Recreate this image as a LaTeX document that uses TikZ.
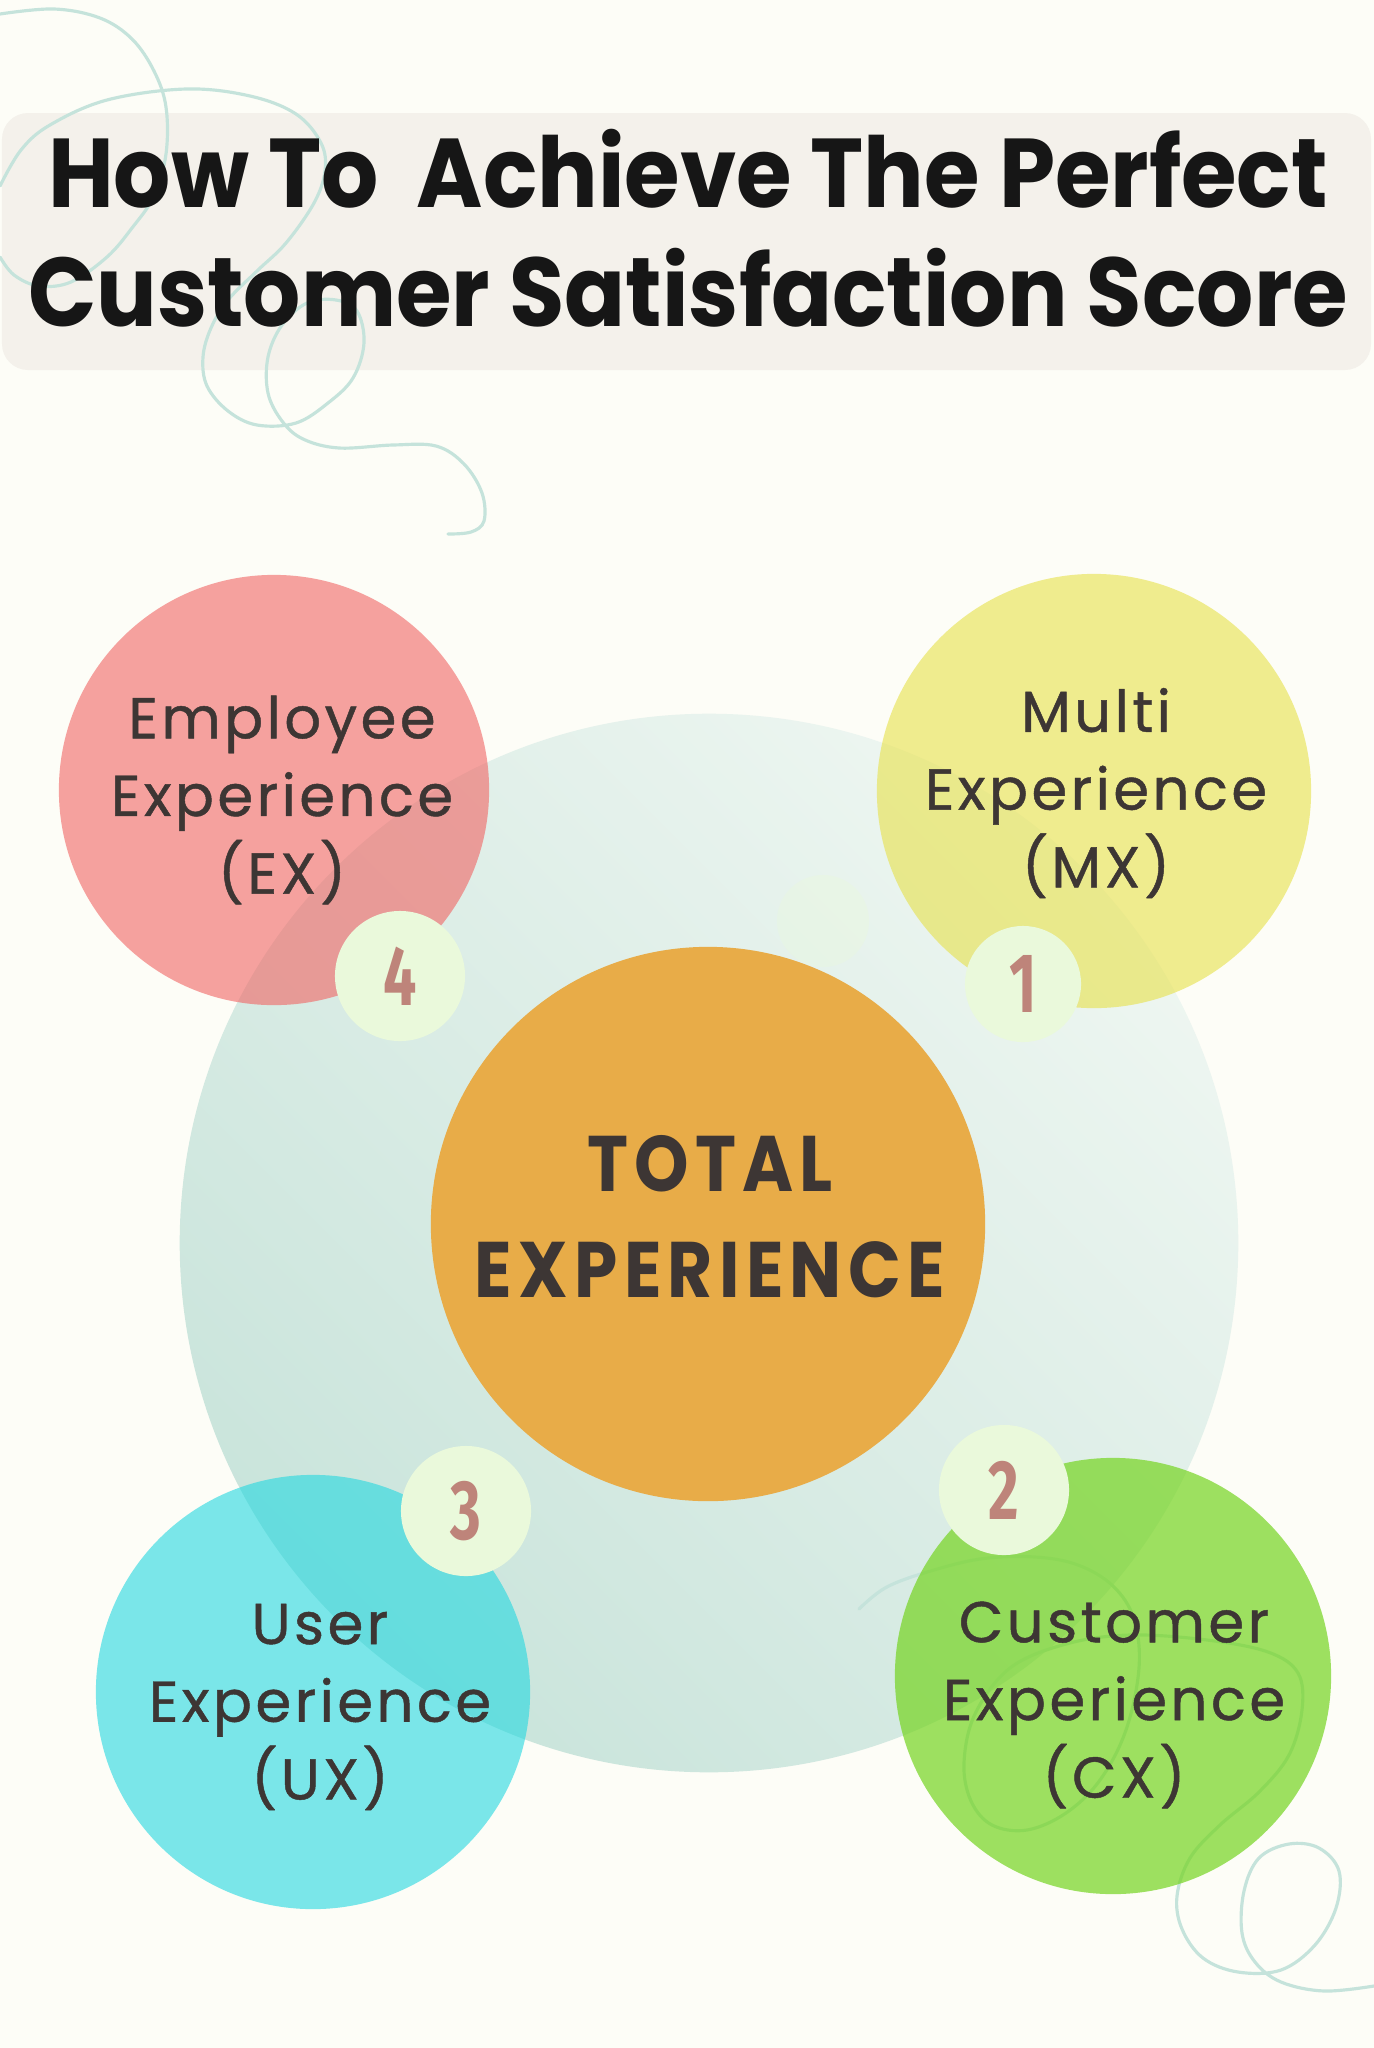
\documentclass[tikz,border=0pt]{standalone}
\usepackage{fontspec}
\setmainfont{Poppins}
\newfontfamily\titlefont[FakeStretch=0.92]{Poppins}
\newfontfamily\labelfont[LetterSpace=6,FakeBold=0.8]{Poppins}
\newfontfamily\totalfont[LetterSpace=8,FakeStretch=0.88]{Poppins}
\newfontfamily\numfont[FakeStretch=0.7]{Fira Sans}

\definecolor{bgcream}{HTML}{FDFDF7}
\definecolor{titlebox}{HTML}{F4F1EB}
\definecolor{titleink}{HTML}{161616}
\definecolor{ink}{HTML}{3D3634}
\definecolor{swirlteal}{HTML}{C5E3DB}
\definecolor{paletop}{HTML}{EEF6F1}
\definecolor{palebot}{HTML}{C9E4DB}
\definecolor{orangec}{HTML}{E8AC48}
\definecolor{pinkc}{RGB}{241,100,99}
\definecolor{yellowc}{RGB}{231,225,73}
\definecolor{cyanc}{RGB}{35,216,224}
\definecolor{greenc}{RGB}{117,212,32}
\definecolor{badgegreen}{HTML}{EAF9DB}
\definecolor{numrose}{HTML}{BE847A}

\tikzstyle{bubble}=[circle,inner sep=0pt,draw=none]
\tikzstyle{badge}=[circle,inner sep=0pt,fill=badgegreen,text=numrose,font=\numfont\bfseries\fontsize{24}{24}\selectfont]
\tikzstyle{blurb}=[align=center,text=ink,font=\labelfont\fontsize{16.4}{22.1}\selectfont]
\tikzstyle{swirl}=[draw=swirlteal,line width=0.9pt,line cap=round]

\begin{document}
\begin{tikzpicture}[x=0.01cm,y=-0.01cm]
    \useasboundingbox (0,0) rectangle (1374,2048);
    \fill[bgcream] (0,0) rectangle (1374,2048);
    \fill[titlebox,rounded corners=0.26cm] (2,113) rectangle (1371,370);

    % big pale ring behind everything
    \node[bubble,minimum size=10.58cm,top color=paletop,bottom color=palebot,shading angle=-45] (halo) at (709,1243) {};
    \node[bubble,minimum size=0.92cm,fill=badgegreen,opacity=0.35] (ghost) at (823,921) {};

    % swirls
    \draw[swirl] plot[smooth,tension=0.6] coordinates {(0,14) (54,9) (100,18) (132,39) (154,71) (166,107) (166,154) (154,196) (132,228) (107,257) (71,282) (39,286) (14,275) (0,257)};
    \draw[swirl] plot[smooth,tension=0.6] coordinates {(0,186) (21,150) (50,125) (107,100) (186,89) (250,96) (296,114) (321,143) (325,171) (314,203) (286,243) (257,271) (228,300) (211,328) (203,357) (207,386) (228,411) (257,425) (296,423) (328,403) (353,378) (364,343) (357,311) (336,300) (307,303) (282,325) (268,357) (268,393) (282,421) (303,439) (339,448) (393,445) (436,446) (464,464) (482,493) (484,521) (471,532) (448,534)};
    \draw[swirl] plot[smooth,tension=0.6] coordinates {(859,1609) (885,1588) (924,1573) (980,1559) (1035,1557) (1078,1565) (1113,1586) (1134,1619) (1139,1668) (1126,1730) (1100,1780) (1066,1813) (1027,1830) (992,1825) (971,1801) (964,1763) (975,1714) (1010,1668) (1066,1644) (1130,1635) (1207,1640) (1268,1652) (1298,1673) (1302,1710) (1289,1755) (1259,1792) (1220,1825) (1190,1858) (1177,1896) (1182,1929) (1203,1958) (1238,1972) (1281,1970) (1315,1945) (1336,1908) (1339,1871) (1319,1848) (1289,1844) (1259,1858) (1244,1891) (1242,1933) (1255,1962) (1281,1982) (1324,1991) (1374,1986)};

    \node[font=\titlefont\bfseries\fontsize{27.8}{33.9}\selectfont,align=center,text=titleink] (title) at (688,228) {How To\ \ Achieve The Perfect\\Customer Satisfaction Score};

    % the four experiences
    \node[bubble,minimum size=4.30cm,fill=pinkc,fill opacity=0.6] (ex) at (274,790) {};
    \node[bubble,minimum size=4.34cm,fill=yellowc,fill opacity=0.6] (mx) at (1094,791) {};
    \node[bubble,minimum size=4.34cm,fill=cyanc,fill opacity=0.6] (ux) at (313,1692) {};
    \node[bubble,minimum size=4.36cm,fill=greenc,fill opacity=0.7] (cx) at (1113,1676) {};
    \node[bubble,minimum size=5.54cm,fill=orangec] (tx) at (708,1224) {};

    \node[blurb] (exlabel) at (282,800) {Employee\\Experience\\(EX)};
    \node[blurb] (mxlabel) at (1096,793) {Multi\\Experience\\(MX)};
    \node[blurb] (uxlabel) at (320,1707) {User\\Experience\\(UX)};
    \node[blurb] (cxlabel) at (1114,1705) {Customer\\Experience\\(CX)};
    \node[align=center,text=ink,font=\totalfont\bfseries\fontsize{22.4}{30.1}\selectfont] (txlabel) at (710,1217) {TOTAL\\EXPERIENCE};

    \foreach \n/\x/\y/\d in {1/1023/984/1.16cm,2/1004/1490/1.3cm,3/466/1511/1.3cm,4/400/976/1.3cm}
    \node[badge,minimum size=\d] (badge\n) at (\x,\y) {\n};
\end{tikzpicture}
\end{document}
